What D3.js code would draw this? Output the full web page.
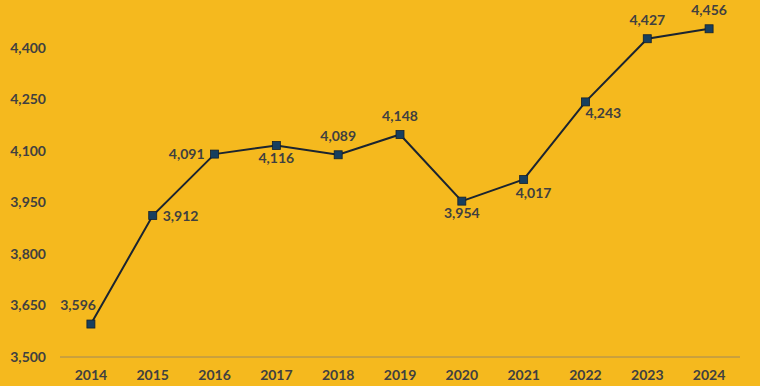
<!DOCTYPE html>
<html>
<head>
<meta charset="utf-8">
<script src="https://cdn.jsdelivr.net/npm/d3@7"></script>
<style>
  html, body { margin: 0; padding: 0; background: #F5B91E; }
  svg { display: block; }
  text { font-family: Lato, "Open Sans", sans-serif; font-weight: bold; fill: #404040; }
</style>
</head>
<body>
<div id="chart"></div>
<script>
// data
const years = ["2014", "2015", "2016", "2017", "2018", "2019", "2020", "2021", "2022", "2023", "2024"];
const values = [3596, 3912, 4091, 4116, 4089, 4148, 3954, 4017, 4243, 4427, 4456];
const labelPos = ["aboveleft", "right", "left", "below", "above", "above", "below", "belowslight", "belowright", "above", "above"];
const yTicks = [3500, 3650, 3800, 3950, 4100, 4250, 4400];

const w = 760, h = 386;

const svg = d3.select("#chart")
  .append("svg")
  .attr("width", w)
  .attr("height", h);

svg.append("rect")
  .attr("width", w)
  .attr("height", h)
  .attr("fill", "#F5B91E");

const x = d3.scaleBand()
  .domain(years)
  .range([60, 740]);

const y = d3.scaleLinear()
  .domain([3500, 4400])
  .range([357, 48]);

// y axis labels
const yAxis = svg.append("g")
  .call(d3.axisLeft(y).tickValues(yTicks).tickFormat(d3.format(",")).tickSize(0).tickPadding(0))
  .attr("transform", "translate(46,0)");
yAxis.select(".domain").remove();
yAxis.selectAll("text")
  .attr("font-size", 14)
  .attr("font-family", null)
  .attr("fill", "#404040");

// baseline
svg.append("line")
  .attr("x1", 60)
  .attr("x2", 740)
  .attr("y1", y(3500))
  .attr("y2", y(3500))
  .attr("stroke", "#A0885A")
  .attr("stroke-width", 1);

// x axis labels
const xAxis = svg.append("g")
  .attr("transform", "translate(0," + y(3500) + ")")
  .call(d3.axisBottom(x).tickSize(0).tickPadding(13));
xAxis.select(".domain").remove();
xAxis.selectAll("text")
  .attr("font-size", 14)
  .attr("font-family", null)
  .attr("fill", "#404040");

const cx = (d, i) => x(years[i]) + x.bandwidth() / 2;

// line
const line = d3.line()
  .x((d, i) => cx(d, i))
  .y(d => y(d));

svg.append("path")
  .datum(values)
  .attr("d", line)
  .attr("fill", "none")
  .attr("stroke", "#1B2430")
  .attr("stroke-width", 2);

// markers
svg.selectAll(".marker")
  .data(values)
  .enter()
  .append("rect")
  .attr("class", "marker")
  .attr("x", (d, i) => cx(d, i) - 4)
  .attr("y", d => y(d) - 4)
  .attr("width", 8)
  .attr("height", 8)
  .attr("fill", "#173F5F")
  .attr("stroke", "#14202C")
  .attr("stroke-width", 0.8);

// data labels
const offsets = {
  above: [0, -14, "middle"],
  below: [0, 17, "middle"],
  left: [-10, 5, "end"],
  right: [10, 5, "start"],
  aboveleft: [5, -14, "end"],
  belowslight: [-8, 19, "start"],
  belowright: [0, 16, "start"]
};

svg.selectAll(".dlabel")
  .data(values)
  .enter()
  .append("text")
  .attr("class", "dlabel")
  .attr("x", (d, i) => cx(d, i) + offsets[labelPos[i]][0])
  .attr("y", (d, i) => y(d) + offsets[labelPos[i]][1])
  .attr("text-anchor", (d, i) => offsets[labelPos[i]][2])
  .attr("font-size", 14)
  .text(d => d3.format(",")(d));
</script>
</body>
</html>
